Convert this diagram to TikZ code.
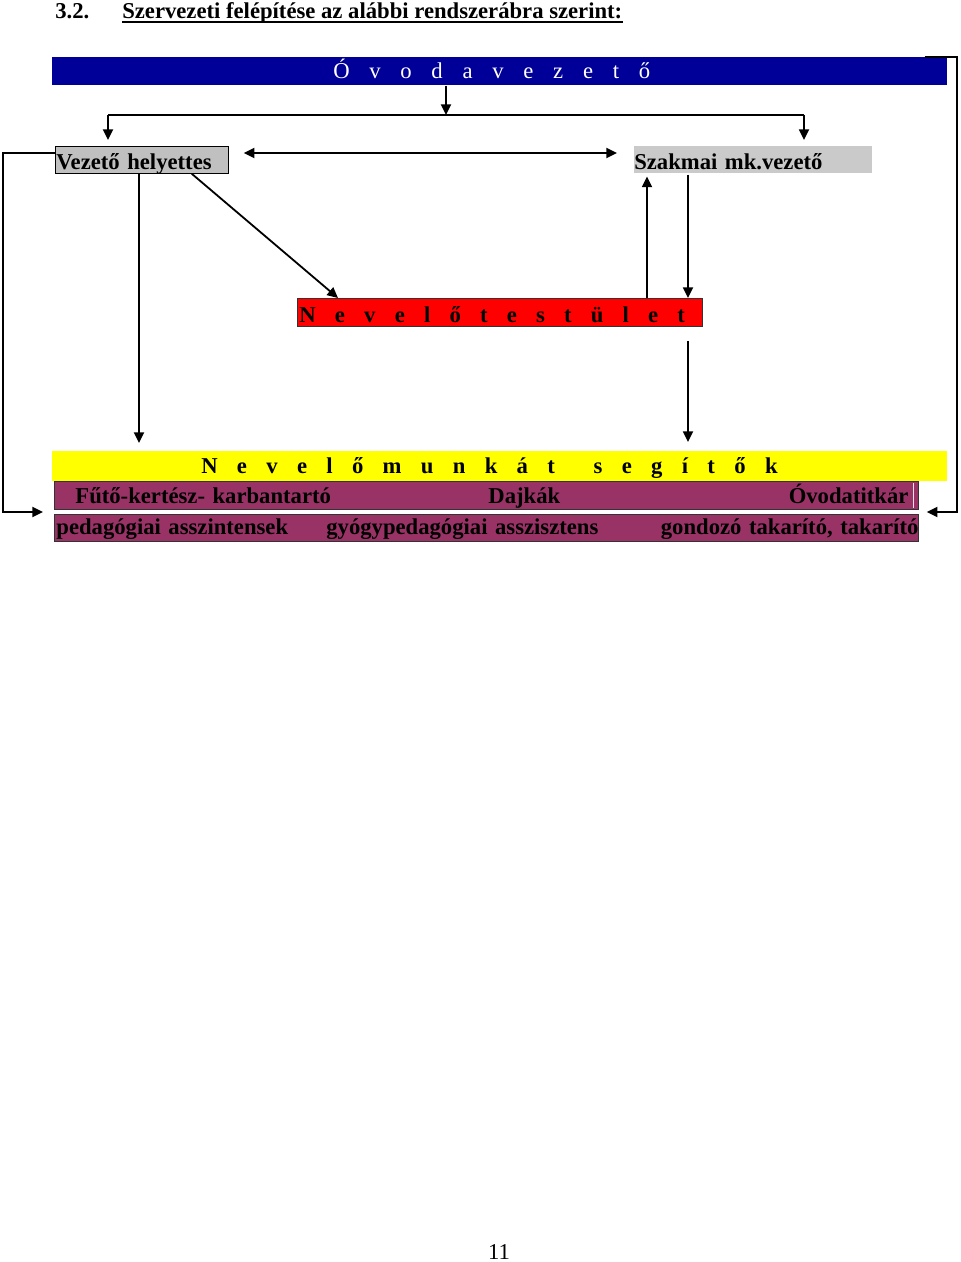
\documentclass[tikz,border=0pt]{standalone}
\usepackage{fontspec}
\setmainfont{Liberation Serif}
\usetikzlibrary{arrows.meta}

\begin{document}
\begin{tikzpicture}[
  x=0.75pt, y=-0.75pt,
  font=\fontsize{17}{20}\selectfont\bfseries,
  band/.style={anchor=north west, inner sep=0pt, align=left},
  link/.style={line width=1.35pt},
  flow/.style={-{Triangle[length=8pt,width=7.5pt]}, line width=1.35pt},
  flowboth/.style={{Triangle[length=8pt,width=7.5pt]}-{Triangle[length=8pt,width=7.5pt]},
    line width=1.35pt},
]
\definecolor{leadBlue}{HTML}{000099}
\definecolor{deputyGray}{HTML}{C0C0C0}
\definecolor{expertGray}{HTML}{CACACA}
\definecolor{staffRed}{HTML}{FF0000}
\definecolor{helperYellow}{HTML}{FFFF00}
\definecolor{workerPurple}{HTML}{993366}

\useasboundingbox (0,0) rectangle (960,1262);

% heading
\node[anchor=base west, inner sep=0pt] (num) at (55,19) {3.2.};
\node[anchor=base west, inner sep=0pt] (title) at (122,19)
  {Szervezeti felépítése az alábbi rendszerábra szerint:};
\draw[line width=1.1pt] ([yshift=-2.4pt]title.base west) -- ([yshift=-2.4pt]title.base east);

% boxes
\node[band, fill=leadBlue, text=white, font=\fontsize{17}{20}\selectfont\mdseries,
  text width=671.25pt, text height=15.75pt, text depth=5.25pt]
  (ovoda) at (52,57) {\hspace*{210.75pt}{\spaceskip=14.8pt Ó v o d a v e z e t ő}};
\node[band, fill=deputyGray, draw=black, line width=0.6pt,
  text width=129.75pt, text height=17.25pt, text depth=3pt]
  (helyettes) at (55,146) {\hspace*{0.75pt}Vezető helyettes};
\node[band, fill=expertGray,
  text width=178.5pt, text height=17.25pt, text depth=3pt]
  (szakmai) at (634,146) {Szakmai mk.vezető};
\node[band, fill=staffRed, draw=black!80, line width=0.6pt,
  text width=303.75pt, text height=18pt, text depth=3pt]
  (testulet) at (297,298) {\hspace*{1.5pt}{\spaceskip=14.4pt N e v e l ő t e s t ü l e t}};
\node[band, fill=helperYellow,
  text width=671.25pt, text height=16.5pt, text depth=6pt]
  (segitok) at (52,451) {\hspace*{111.75pt}{\spaceskip=14.5pt N e v e l ő m u n k á t \ s e g í t ő k}};
\node[band, fill=workerPurple, draw=black!80, line width=0.6pt,
  text width=648pt, text height=16.5pt, text depth=4.5pt]
  (row1) at (54,481) {\hspace*{15.75pt}\makebox[309.75pt][l]{Fűtő-kertész- karbantartó}Dajkák\hfill
    Óvodatitkár\kern7.5pt\null};
\node[band, fill=workerPurple, draw=black!80, line width=0.6pt,
  text width=648pt, text height=15pt, text depth=5.25pt]
  (row2) at (54,514) {\hspace*{1.5pt}\makebox[202.5pt][l]{pedagógiai asszintensek}gyógypedagógiai asszisztens\hfill
    gondozó takarító, takarító};
\draw[white!85!workerPurple, line width=0.7pt]
  ([xshift=-3.75pt,yshift=-1.5pt]row1.north east) -- ([xshift=-3.75pt,yshift=1.5pt]row1.south east);

\node[anchor=base, inner sep=0pt, font=\fontsize{17}{20}\selectfont\mdseries] (page) at (499,1259) {11};

% connectors
\coordinate (split) at (446,115);
\coordinate (splitL) at (108,115);
\coordinate (splitR) at (804,115);
\coordinate (mid) at (430,153);
\coordinate (loopL) at (3,512);
\coordinate (loopR) at (957,512);
\coordinate (helyx) at (139,0);
\coordinate (upx) at (647,0);
\coordinate (downx) at (688,0);

\draw[flow] (split |- ovoda.south) -- (split);
\draw[link] (splitL) -- (splitR);
\draw[flow, shorten >=4.5pt] (splitL) -- (splitL |- helyettes.north);
\draw[flow, shorten >=4.5pt] (splitR) -- (splitR |- szakmai.north);
\draw[flowboth, shorten <=11.25pt, shorten >=12.75pt] (helyettes.east |- mid) -- (szakmai.west |- mid);

\draw[flow, shorten >=8.25pt] (helyettes.west |- mid) -| (loopL) -- (loopL -| row1.west);
\draw[flow, shorten >=6pt] ([xshift=-17.25pt]ovoda.north east) -| (loopR) -- (loopR -| row1.east);

\draw[flow, shorten >=6pt] (helyx |- helyettes.south) -- (helyx |- segitok.north);
\draw[flow] ([xshift=-27.75pt]helyettes.south east) -- ([xshift=30.75pt]testulet.north west);
\draw[flow, shorten >=2.25pt] (upx |- testulet.north) -- (upx |- szakmai.south);
\draw[flow, shorten <=0.75pt] (downx |- szakmai.south) -- (downx |- testulet.north);
\draw[flow, shorten <=10.5pt, shorten >=6.75pt] (downx |- testulet.south) -- (downx |- segitok.north);
\end{tikzpicture}
\end{document}
